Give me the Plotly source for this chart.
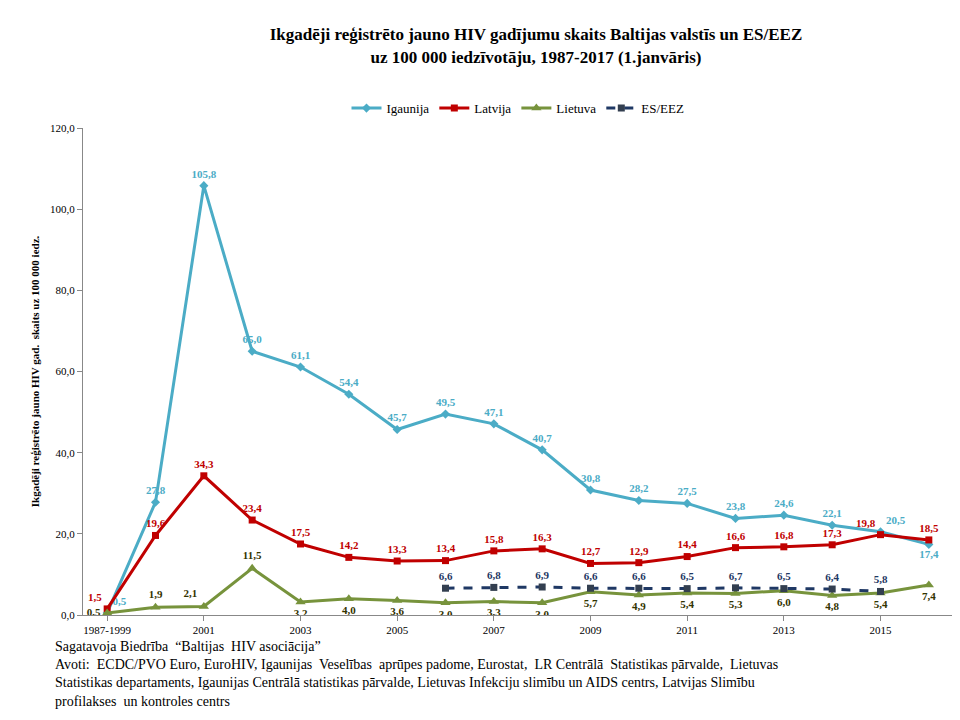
import plotly.graph_objects as go

years = ['1987-1999'] + [str(y) for y in range(2000, 2017)]
igaunija = [0.5, 27.8, 105.8, 65.0, 61.1, 54.4, 45.7, 49.5, 47.1, 40.7, 30.8, 28.2, 27.5, 23.8, 24.6, 22.1, 20.5, 17.4]
latvija = [1.5, 19.6, 34.3, 23.4, 17.5, 14.2, 13.3, 13.4, 15.8, 16.3, 12.7, 12.9, 14.4, 16.6, 16.8, 17.3, 19.8, 18.5]
lietuva = [0.5, 1.9, 2.1, 11.5, 3.2, 4.0, 3.6, 3.0, 3.3, 3.0, 5.7, 4.9, 5.4, 5.3, 6.0, 4.8, 5.4, 7.4]
es_years = [str(y) for y in range(2006, 2016)]
es_eez = [6.6, 6.8, 6.9, 6.6, 6.6, 6.5, 6.7, 6.5, 6.4, 5.8]

def lab_c(v):
    return ['<b>%s</b>' % ('%.1f' % x).replace('.', ',') for x in v]

FONT = 'Liberation Serif'

fig = go.Figure()
fig.add_trace(go.Scatter(x=years, y=igaunija, name='Igaunija', mode='lines+markers+text',
                         line=dict(color='#4BACC6', width=3),
                         marker=dict(symbol='diamond', size=7),
                         text=lab_c(igaunija),
                         textposition=['top right', 'top center'] + ['top center'] * 14 + ['top right', 'bottom center'],
                         textfont=dict(color='#4BACC6', size=11, family=FONT)))
fig.add_trace(go.Scatter(x=years, y=latvija, name='Latvija', mode='lines+markers+text',
                         line=dict(color='#C00000', width=3),
                         marker=dict(symbol='square', size=7),
                         text=lab_c(latvija),
                         textposition=['top left'] + ['top center'] * 15 + ['top left', 'top center'],
                         textfont=dict(color='#C00000', size=11, family=FONT)))
fig.add_trace(go.Scatter(x=years, y=lietuva, name='Lietuva', mode='lines+markers+text',
                         line=dict(color='#77933C', width=3),
                         marker=dict(symbol='triangle-up', size=9),
                         text=lab_c(lietuva),
                         textposition=['middle left', 'top center', 'top left', 'top center'] + ['bottom center'] * 14,
                         textfont=dict(color='#333300', size=11, family=FONT)))
fig.add_trace(go.Scatter(x=es_years, y=es_eez, name='ES/EEZ', mode='lines+markers+text',
                         line=dict(color='#1F3864', width=3, dash='dash'),
                         marker=dict(symbol='square', size=7, color='#333F50'),
                         text=lab_c(es_eez), textposition='top center',
                         textfont=dict(color='#1F3864', size=11, family=FONT)))

yt = [0, 20, 40, 60, 80, 100, 120]
fig.update_layout(
    width=960, height=720, plot_bgcolor='white', paper_bgcolor='white',
    font=dict(family=FONT, size=12, color='black'),
    margin=dict(l=75, r=15, t=120, b=113),
    title=dict(text='<b>Ikgadēji reģistrēto jauno HIV gadījumu skaits Baltijas valstīs un ES/EEZ<br>uz 100 000 iedzīvotāju, 1987-2017 (1.janvāris)</b>',
               x=0.55, xanchor='center', y=0.955, font=dict(size=17, family=FONT)),
    legend=dict(orientation='h', x=0.5, xanchor='center', y=1.01, yanchor='bottom',
                font=dict(size=13, family=FONT)),
    xaxis=dict(type='category', tickvals=[years[0]] + years[2::2],
               showline=True, linecolor='#888', ticks='outside', tickcolor='#888',
               tickfont=dict(size=11), range=[-0.5, 17.5]),
    yaxis=dict(range=[0, 120], tickvals=yt, ticktext=['%d,0' % v for v in yt],
               showline=True, linecolor='#888', ticks='outside', tickcolor='#888', showgrid=False,
               tickfont=dict(size=11),
               title=dict(text='<b>Ikgadēji reģistrēto jauno HIV gad.  skaits uz 100 000 iedz.</b>',
                          font=dict(size=11), standoff=8)),
)
foot = ('Sagatavoja Biedrība  “Baltijas  HIV asociācija”<br>'
        'Avoti:  ECDC/PVO Euro, EuroHIV, Igaunijas  Veselības  aprūpes padome, Eurostat,  LR Centrālā  Statistikas pārvalde,  Lietuvas<br>'
        'Statistikas departaments, Igaunijas Centrālā statistikas pārvalde, Lietuvas Infekciju slimību un AIDS centrs, Latvijas Slimību<br>'
        'profilakses  un kontroles centrs')
fig.add_annotation(text=foot, xref='paper', yref='paper', x=-0.035, y=-0.045, xanchor='left', yanchor='top',
                   showarrow=False, align='left', font=dict(size=14, family=FONT))
fig.write_html('out.html')
